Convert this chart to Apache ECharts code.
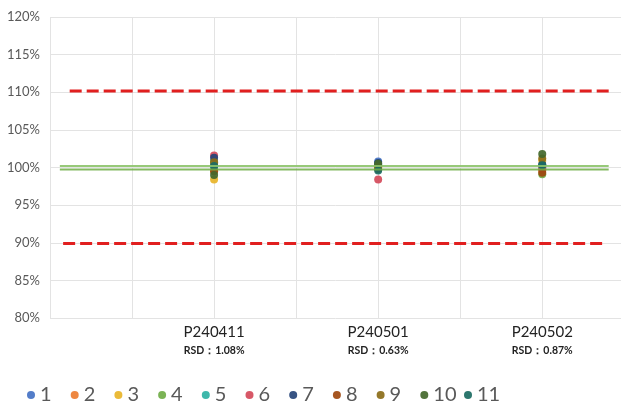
<!DOCTYPE html>
<html><head><meta charset="utf-8">
<script src="https://cdn.jsdelivr.net/npm/echarts@6/dist/echarts.min.js"></script>
<style>html,body{margin:0;padding:0;background:#fff}#c{width:624px;height:407px}</style>
</head><body><div id="c"></div>
<script>
// Batches (categories) and their RSD captions
const categories = ['P240411', 'P240501', 'P240502'];
const rsdLabels = ['RSD：1.08%', 'RSD：0.63%', 'RSD：0.87%'];
// Where each batch sits on the numeric x axis (ticks 0..7)
const categoryX = [2, 4, 6];
// Sample names (legend)
const sampleNames = ['1','2','3','4','5','6','7','8','9','10','11'];
// Measured recovery (%) for samples 1..11 per batch
const p240411 = [100.5, 99.6, 98.4, 100.8, 100.1, 101.6, 101.3, 99.5, 100.7, 99.0, 100.2];
const p240501 = [100.8, 100.2, 100.0, 100.3, 100.4, 98.4, 100.6, 99.8, 100.1, 100.5, 99.6];
const p240502 = [100.0, 99.6, 100.9, 99.1, 100.2, 99.8, 100.4, 99.3, 101.2, 101.8, 100.3];
const batchValues = [p240411, p240501, p240502];
// Reference lines: [x, y] end points
const upperLimit = [[0.24, 110.15], [6.82, 110.15]];
const lowerLimit = [[0.16, 89.9], [6.74, 89.9]];
const targetLineA = [[0.12, 100.2], [6.81, 100.2]];
const targetLineB = [[0.12, 99.75], [6.81, 99.75]];

const colors = ['#4472C4','#ED7D31','#E8B428','#70AD47','#2EB2A4','#D44A5A','#264478','#9E480E','#8B6C18','#43682B','#1B6B62'];

const font = 'Lato, "Liberation Sans", sans-serif';
const scatterSeries = sampleNames.map((name, i) => ({
  name: name,
  type: 'scatter',
  symbol: 'circle',
  symbolSize: 8,
  itemStyle: { color: colors[i], opacity: 0.92 },
  z: 2,
  data: categories.map((c, j) => [categoryX[j], batchValues[j][i]])
}));

// one legend component per sample so every entry gets an equal-width slot
const legendSlot = 43.7;
const legends = sampleNames.map((name, i) => ({
  data: [name],
  left: 22 + i * legendSlot, top: 380,
  icon: 'circle', itemWidth: 8, itemHeight: 8,
  textStyle: { fontFamily: font, fontSize: 20, color: '#595959' }
}));

const lineBase = { type: 'line', symbol: 'none', silent: true, animation: false };
const chart = echarts.init(document.getElementById('c'), null, { renderer: 'canvas' });
chart.setOption({
  animation: false,
  color: colors,
  grid: { left: 50, right: 0, top: 17, bottom: 89, containLabel: false },
  xAxis: {
    type: 'value', min: 0, max: 6.96, interval: 1,
    axisLine: { show: false }, axisTick: { show: false },
    splitLine: { show: true, showMaxLine: false, lineStyle: { color: '#E3E3E3', width: 1 } },
    axisLabel: {
      margin: 4,
      formatter: function (v) {
        const i = categoryX.indexOf(v);
        if (i < 0) return '';
        return '{a|' + categories[i] + '}\n{b|' + rsdLabels[i] + '}';
      },
      rich: {
        a: { fontFamily: font, fontSize: 15, color: '#222', lineHeight: 20 },
        b: { fontFamily: font, fontSize: 10.5, fontWeight: 'bold', color: '#222', lineHeight: 18 }
      }
    }
  },
  yAxis: {
    type: 'value', min: 80, max: 120, interval: 5,
    axisLine: { show: false }, axisTick: { show: false },
    splitLine: { show: true, lineStyle: { color: '#E3E3E3', width: 1 } },
    axisLabel: { formatter: '{value}%', fontFamily: font, fontSize: 13, color: '#595959', margin: 10 }
  },
  legend: legends,
  series: scatterSeries.concat([
    Object.assign({}, lineBase, { name: 'upper', data: upperLimit, z: 4,
      lineStyle: { color: '#E11F1F', width: 3, type: [12, 5] } }),
    Object.assign({}, lineBase, { name: 'lower', data: lowerLimit, z: 4,
      lineStyle: { color: '#E11F1F', width: 3, type: [12, 5] } }),
    Object.assign({}, lineBase, { name: 'targetA', data: targetLineA, z: 3,
      lineStyle: { color: '#8CC36A', width: 2, opacity: 0.9 } }),
    Object.assign({}, lineBase, { name: 'targetB', data: targetLineB, z: 3,
      lineStyle: { color: '#70AD47', width: 2, opacity: 0.85 } })
  ])
});
</script>
</body></html>
